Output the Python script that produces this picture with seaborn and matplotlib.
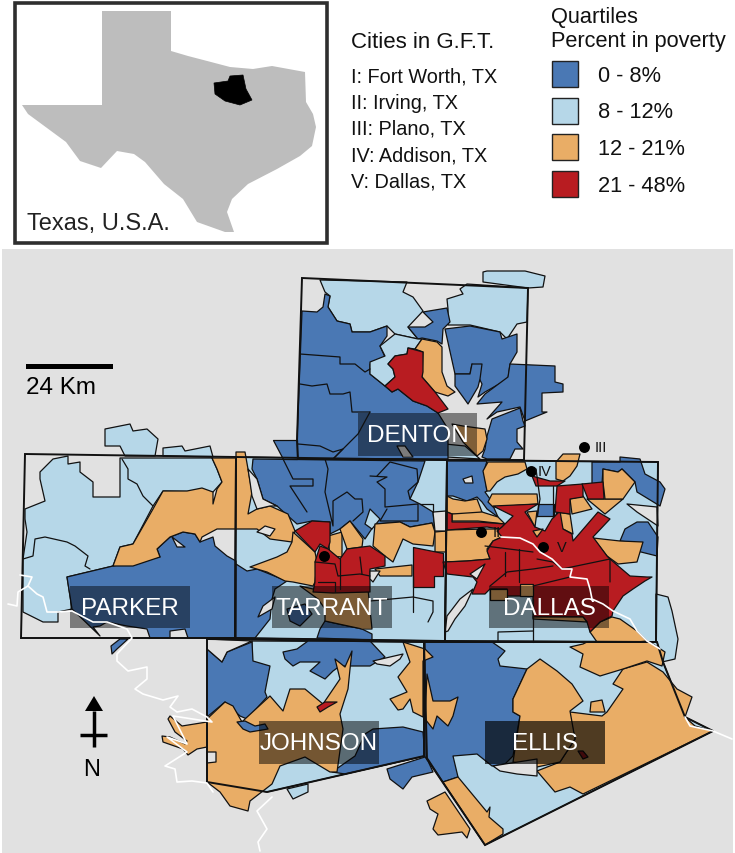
"""Poverty quartiles by census tract, Greater Fort Worth / Dallas counties."""

import matplotlib
matplotlib.use('Agg')
import matplotlib.pyplot as plt
import pandas as pd
import seaborn as sns
from matplotlib.patches import Rectangle

texas = [(102, 12), (171, 12), (171, 52), (188, 57), (211, 63), (230, 68), (253, 70), (272, 67), (305, 73),
         (306, 103), (313, 115), (316, 128), (312, 147), (300, 157), (277, 170), (248, 185), (232, 200),
         (227, 213), (234, 233), (225, 233), (197, 223), (183, 200), (164, 185), (145, 163), (134, 155),
         (117, 152), (101, 169), (80, 162), (66, 143), (28, 115), (22, 106), (102, 106)]
study_area = [(230, 77), (243, 76), (246, 90), (252, 101), (240, 106), (225, 102), (215, 95), (214, 84), (228, 82)]

quartile_labels = ['0 - 8%', '8 - 12%', '12 - 21%', '21 - 48%']
quartile_colors = ['#4a78b4', '#b6d7e8', '#e9ad66', '#b81c21']
city_lines = ['I: Fort Worth, TX', 'II: Irving, TX', 'III: Plano, TX', 'IV: Addison, TX', 'V: Dallas, TX']

county_names = ['DENTON', 'PARKER', 'TARRANT', 'DALLAS', 'JOHNSON', 'ELLIS']
county_boxes = [(358, 414, 477, 457), (70, 587, 190, 629), (272, 587, 392, 629),
                (489, 587, 609, 629), (259, 722, 379, 765), (485, 722, 605, 765)]
county_alphas = [0.45, 0.45, 0.47, 0.47, 0.5, 0.66]

city_marks = ['I', 'II', 'III', 'IV', 'V']
city_x = [324, 481, 584, 531, 543]
city_y = [557, 533, 448, 472, 548]
city_mark_x = [324, 497, 601, 545, 562]

denton_box = [(302, 279), (528, 289), (524, 461), (298, 460), (297, 442)]
parker_box = [(25, 455), (236, 458), (235, 639), (21, 639)]
tarrant_box = [(236, 458), (447, 461), (445, 642), (235, 639)]
dallas_box = [(447, 461), (658, 463), (656, 643), (445, 642)]
johnson_box = [(207, 640), (424, 643), (424, 757), (267, 793), (207, 783)]
ellis_box = [(424, 643), (657, 643), (663, 663), (685, 718), (713, 732), (485, 846), (427, 760)]

# light blue
lb_parker = [(40, 473), (53, 460), (68, 457), (68, 465), (80, 463), (80, 473), (93, 483), (93, 498), (120, 498),
             (120, 459), (212, 459), (217, 470), (222, 483),
             (213, 493), (163, 492), (153, 507), (133, 545), (120, 548), (113, 567), (67, 578), (72, 610),
             (58, 613), (58, 623), (43, 623), (23, 613), (23, 560), (27, 533), (25, 520), (25, 510), (45, 502),
             (40, 480)]
lb_north_a = [(105, 430), (130, 425), (133, 432), (147, 430), (158, 440), (155, 457), (125, 457), (120, 447), (105, 447)]
lb_north_b = [(163, 449), (182, 447), (185, 452), (210, 447), (213, 458), (163, 457)]
lb_tarrant = [(236, 458), (447, 461), (445, 642), (235, 639)]
lb_dallas = [(447, 461), (658, 463), (656, 643), (445, 642)]
lb_east = [(656, 595), (668, 598), (672, 612), (678, 640), (675, 660), (662, 663), (656, 643)]
lb_johnson = [(252, 642), (424, 643), (424, 757), (267, 793), (252, 790)]
lb_johnson_out = [(287, 790), (308, 785), (308, 793), (293, 800)]
lb_ellis = [(424, 643), (657, 643), (663, 663), (685, 718), (713, 732), (485, 846), (427, 760)]
lb_denton_nw = [(320, 281), (407, 283), (403, 293), (413, 298), (423, 312), (408, 328), (418, 340), (395, 335),
                (387, 327), (370, 333), (352, 333), (350, 325), (337, 322), (328, 308), (330, 297), (325, 293)]
lb_denton_ne = [(467, 285), (528, 289), (527, 323), (517, 325), (507, 340), (500, 333), (470, 326), (448, 326),
                (448, 310), (447, 300), (463, 295), (460, 290)]
lb_denton_top = [(483, 273), (487, 272), (525, 272), (545, 277), (543, 288), (528, 289), (483, 283)]
lb_denton_mid = [(395, 335), (418, 340), (422, 340), (415, 350), (408, 349), (407, 355), (395, 357), (388, 365),
                 (393, 370), (395, 378), (385, 387), (370, 375), (370, 363), (385, 357), (380, 347)]
lb_denton_low = [(445, 445), (465, 447), (480, 460), (447, 458)]
lb_tarrant_pocket = [(370, 510), (380, 520), (372, 530), (365, 525)]

# blue
bl_parker = [(67, 578), (113, 567), (160, 558), (157, 550), (170, 538), (183, 533), (195, 535), (200, 543),
             (213, 538), (215, 547), (227, 557), (236, 562), (236, 639), (188, 639), (185, 630), (170, 632),
             (170, 639), (150, 639), (147, 630), (127, 627), (107, 623), (100, 627), (93, 628), (100, 637), (72, 610)]
bl_stub = [(120, 640), (128, 640), (117, 650), (112, 655), (111, 647)]
bl_tarrant_n = [(253, 460), (425, 462), (418, 483), (410, 500), (420, 505), (433, 513), (435, 532), (432, 524),
                (410, 528), (400, 523), (375, 525), (365, 540), (350, 522), (340, 530), (330, 535), (330, 523),
                (312, 522), (297, 525), (277, 507), (263, 500), (257, 480), (252, 470)]
bl_tarrant_sw = [(236, 565), (247, 572), (257, 570), (287, 582), (275, 590), (272, 600), (270, 620), (255, 639), (236, 639)]
bl_tarrant_s = [(317, 639), (320, 630), (325, 622), (362, 630), (372, 635), (372, 641)]
bl_tarrant_label = [(287, 610), (305, 605), (312, 615), (300, 627), (290, 622)]
bl_denton = [(302, 312), (297, 442), (297, 460), (448, 460), (448, 430), (438, 414), (427, 407), (413, 402),
             (398, 390), (392, 393), (385, 387), (370, 375), (370, 365), (385, 358), (380, 347), (387, 337),
             (387, 327), (370, 333), (352, 333), (350, 325), (337, 322), (328, 308), (330, 297), (325, 295),
             (323, 308), (317, 313)]
bl_denton_w = [(273, 441), (297, 441), (297, 460), (283, 460)]
bl_denton_mid = [(408, 328), (425, 328), (433, 323), (423, 313), (447, 309), (450, 323), (443, 330), (442, 345),
                 (437, 342), (422, 339), (418, 340)]
bl_denton_a = [(445, 330), (470, 327), (500, 333), (502, 340), (517, 335), (517, 353), (510, 365), (508, 380),
               (485, 393), (478, 398), (482, 385), (472, 365), (470, 375), (455, 375)]
bl_denton_b = [(510, 365), (555, 367), (555, 383), (563, 385), (563, 393), (542, 394), (542, 413), (547, 413),
               (525, 422), (520, 408), (497, 413), (487, 420), (502, 403), (477, 405), (485, 395), (508, 378)]
bl_denton_c = [(455, 375), (470, 375), (472, 365), (482, 365), (480, 380), (478, 388), (468, 405), (463, 398), (455, 387)]
bl_denton_d = [(487, 437), (492, 420), (520, 409), (523, 422), (525, 427), (517, 430), (517, 443), (523, 450),
               (515, 450), (510, 460), (487, 460), (482, 458), (485, 450)]
bl_dallas_nw = [(447, 462), (487, 462), (484, 472), (487, 492), (485, 493), (490, 500), (498, 518), (487, 510),
                (482, 503), (477, 498), (467, 502), (453, 497), (447, 497)]
bl_dallas_ne = [(592, 463), (620, 463), (620, 458), (640, 460), (645, 475), (660, 483), (665, 490), (660, 507),
                (637, 493), (635, 483), (622, 470), (618, 473), (603, 470), (602, 485), (592, 485)]
bl_dallas_e = [(637, 523), (648, 523), (658, 538), (657, 557), (637, 552), (628, 543), (620, 542), (625, 530)]
bl_dallas_mid = [(538, 505), (554, 505), (554, 517), (537, 517)]
bl_johnson_w = [(207, 650), (222, 663), (227, 653), (252, 643), (253, 662), (270, 667), (265, 693), (267, 698),
                (247, 720), (240, 717), (225, 703), (207, 718)]
bl_johnson_top = [(283, 653), (297, 650), (308, 642), (370, 642), (385, 658), (370, 667), (340, 667), (333, 672),
                  (325, 680), (310, 672), (320, 663), (300, 663), (293, 667), (285, 660)]
bl_johnson_se = [(332, 773), (355, 757), (365, 735), (373, 730), (403, 728), (423, 733), (425, 757), (345, 775)]
bl_johnson_small = [(237, 723), (245, 722), (255, 727), (265, 725), (268, 730), (250, 733), (243, 730)]
bl_ellis = [(425, 643), (492, 643), (505, 652), (498, 660), (500, 667), (527, 670), (513, 700), (513, 713),
            (520, 717), (513, 757), (505, 765), (492, 767), (477, 755), (453, 757), (458, 778), (443, 783),
            (428, 760), (425, 758)]
bl_south = [(387, 770), (425, 758), (428, 762), (433, 773), (412, 778), (403, 790), (390, 780)]

# orange
or_wedge = [(113, 567), (120, 548), (133, 545), (153, 510), (163, 492), (187, 492), (202, 489), (213, 493),
            (213, 505), (217, 490), (222, 483), (217, 470), (212, 459), (236, 459), (236, 453), (245, 453),
            (248, 470), (252, 493), (248, 515), (257, 510), (270, 507), (288, 515), (295, 532), (292, 543),
            (270, 540), (257, 530), (233, 530), (217, 530), (202, 538), (200, 543), (195, 535), (183, 533),
            (170, 538), (157, 550), (160, 558), (133, 567)]
or_fw = [(293, 533), (315, 553), (317, 563), (315, 583), (313, 587), (293, 583), (285, 582), (267, 573), (250, 568),
         (277, 558), (287, 553), (292, 543)]
or_south = [(300, 587), (313, 590), (345, 587), (368, 590), (372, 630), (362, 630), (325, 622), (325, 610), (318, 600)]
or_north_a = [(328, 537), (342, 533), (342, 558), (330, 557)]
or_north_b = [(340, 530), (350, 522), (363, 540), (362, 548), (347, 550)]
or_east_a = [(375, 525), (400, 523), (410, 528), (432, 524), (435, 533), (433, 547), (413, 545), (403, 540),
             (393, 563), (385, 557), (373, 547)]
or_east_b = [(375, 570), (412, 566), (412, 577), (380, 577)]
or_east_c = [(435, 533), (446, 532), (446, 553), (435, 553)]
or_dallas_w = [(446, 531), (487, 530), (502, 530), (502, 538), (493, 542), (487, 550), (490, 560), (467, 562), (446, 563)]
or_dallas_top = [(483, 472), (488, 463), (525, 463), (527, 470), (518, 475), (505, 478), (497, 483), (490, 492), (487, 492)]
or_dallas_strip = [(488, 503), (492, 495), (537, 495), (538, 505), (493, 508)]
or_dallas_b = [(447, 497), (453, 500), (465, 502), (477, 500), (482, 513), (470, 517), (452, 515), (447, 513)]
or_dallas_c = [(452, 515), (482, 513), (498, 518), (505, 525), (478, 522), (452, 522)]
or_dallas_d = [(570, 500), (583, 497), (592, 510), (572, 515)]
or_dallas_e = [(587, 500), (623, 500), (605, 515), (593, 505)]
or_dallas_f = [(603, 470), (618, 473), (622, 470), (635, 483), (623, 500), (605, 500), (603, 483)]
or_dallas_g = [(593, 539), (620, 542), (643, 543), (637, 563), (618, 565), (607, 557)]
or_dallas_h = [(557, 513), (570, 515), (573, 535), (563, 530), (558, 537), (550, 535)]
or_dallas_i = [(527, 513), (537, 512), (535, 528)]
or_dallas_j = [(563, 455), (580, 455), (577, 467), (570, 477), (563, 482), (556, 480), (556, 463)]
or_dallas_k = [(533, 532), (543, 530), (537, 538)]
or_dallas_se = [(590, 633), (600, 623), (612, 618), (620, 620), (637, 632), (647, 642), (637, 643), (597, 643)]
or_dallas_lab_a = [(490, 590), (507, 590), (507, 601), (490, 601)]
or_dallas_lab_b = [(520, 585), (533, 585), (533, 597), (520, 597)]
or_dallas_lab_c = [(533, 618), (583, 618), (587, 623), (533, 620)]
or_ellis_l = [(427, 675), (433, 702), (450, 702), (458, 698), (453, 717), (448, 727), (437, 717), (433, 730), (425, 720)]
or_ellis_top = [(403, 643), (425, 650), (433, 658), (423, 662), (423, 718), (413, 713), (410, 700), (403, 710),
                (398, 711), (390, 700), (407, 693), (398, 678), (410, 663)]
or_ellis_e = [(570, 713), (602, 717), (607, 713), (623, 690), (613, 685), (623, 670), (647, 663), (663, 673),
              (677, 690), (692, 698), (685, 718), (695, 727), (713, 732), (583, 795), (570, 788), (555, 793),
              (537, 772), (560, 763), (575, 740), (570, 717)]
or_ellis_w = [(513, 700), (527, 670), (540, 660), (557, 672), (572, 685), (583, 702), (570, 712), (575, 740),
              (560, 763), (537, 768), (513, 763), (520, 717), (513, 713)]
or_ellis_n = [(570, 648), (583, 645), (587, 643), (650, 643), (665, 653), (662, 667), (647, 662), (623, 670),
              (600, 677), (580, 668), (583, 655)]
or_ellis_small = [(591, 703), (602, 701), (605, 713), (590, 713)]
or_ellis_sw = [(443, 783), (458, 778), (487, 813), (490, 808), (489, 818), (503, 830), (503, 835), (485, 846)]
or_south_out = [(427, 802), (445, 793), (470, 830), (467, 839), (462, 833), (438, 836), (433, 830), (438, 815), (430, 810)]
or_johnson = [(207, 720), (225, 703), (233, 707), (242, 723), (245, 720), (270, 697), (283, 712), (290, 690),
              (305, 690), (323, 705), (340, 680), (335, 660), (345, 668), (352, 652), (350, 670), (348, 690),
              (340, 715), (343, 730), (337, 773), (330, 773), (305, 758), (280, 767), (272, 785), (250, 802),
              (248, 812), (230, 807), (220, 793), (207, 783)]
or_lobe = [(170, 717), (182, 727), (207, 723), (207, 748), (197, 750), (188, 756), (183, 750), (163, 743), (162, 737),
           (170, 738), (185, 745), (187, 742), (175, 733), (168, 720)]
or_denton = [(415, 350), (422, 340), (437, 343), (442, 348), (442, 373), (447, 387), (455, 393), (448, 397), (435, 393),
             (422, 378), (423, 353)]
or_denton_low = [(452, 425), (463, 427), (485, 430), (487, 440), (483, 452), (477, 457), (463, 443)]

# red
rd_denton = [(388, 365), (395, 357), (407, 355), (408, 349), (423, 353), (423, 373), (422, 378), (435, 393), (448, 410),
             (438, 414), (427, 407), (413, 402), (398, 390), (392, 393), (385, 387), (395, 378), (393, 370)]
rd_fw_n = [(295, 532), (312, 522), (330, 523), (330, 543), (328, 550), (320, 545), (315, 553)]
rd_fw_s = [(315, 563), (320, 547), (328, 550), (340, 560), (347, 550), (370, 547), (385, 557), (385, 567), (370, 570),
           (370, 593), (333, 594), (313, 593), (315, 583)]
rd_east = [(413, 548), (413, 588), (434, 588), (434, 577), (443, 577), (443, 554)]
rd_band = [(447, 513), (452, 515), (452, 523), (478, 523), (505, 525), (500, 530), (487, 528), (447, 531)]
rd_dallas = [(493, 507), (538, 505), (525, 513), (530, 520), (535, 528), (545, 532), (552, 520), (560, 512), (563, 530),
             (572, 535), (573, 542), (598, 513), (610, 520), (593, 538), (607, 557), (610, 560), (630, 577), (647, 578),
             (652, 578), (645, 582), (633, 590), (623, 597), (613, 612), (612, 617), (600, 623), (590, 633), (587, 623),
             (583, 618), (533, 618), (533, 597), (507, 597), (507, 590), (490, 590),
             (485, 595), (472, 595), (477, 583), (473, 578), (447, 575), (443, 563), (467, 562), (490, 560), (487, 552),
             (493, 542), (502, 538), (497, 532), (502, 528), (513, 517)]
rd_north_a = [(532, 477), (550, 482), (565, 482), (557, 487), (536, 487)]
rd_north_b = [(557, 487), (583, 485), (583, 498), (570, 500), (570, 515), (555, 513)]
rd_north_c = [(582, 485), (603, 483), (604, 500), (588, 500)]
rd_johnson = [(317, 708), (325, 703), (337, 703), (328, 708), (320, 713)]
rd_ellis = [(578, 752), (583, 752), (588, 758), (583, 760)]

# holes showing the background: lakes and tracts without data
hole_ellis = [(493, 767), (505, 765), (537, 760), (537, 777), (517, 775), (500, 772)]
hole_johnson_a = [(207, 753), (216, 753), (216, 763), (207, 764)]
hole_johnson_b = [(373, 662), (390, 658), (403, 655), (400, 660), (390, 667), (377, 665)]
hole_tarrant_a = [(445, 633), (447, 617), (460, 600), (473, 590), (465, 607), (455, 620), (448, 632)]
hole_tarrant_b = [(257, 533), (265, 527), (275, 530), (270, 537)]
hole_tarrant_c = [(263, 607), (275, 598), (272, 610), (258, 618)]
hole_tarrant_d = [(370, 572), (380, 572), (373, 583), (370, 580)]
hole_tarrant_e = [(433, 513), (446, 512), (446, 532), (435, 532)]
hole_tarrant_f = [(248, 470), (257, 480), (263, 500), (277, 507), (270, 507), (257, 510), (252, 497), (250, 483)]
hole_parker = [(172, 538), (185, 548), (177, 548)]
hole_dallas_a = [(470, 575), (485, 565), (477, 580)]
hole_dallas_b = [(627, 505), (657, 508), (658, 527), (637, 513)]
hole_dallas_c = [(463, 480), (472, 477), (473, 484), (465, 484)]
hole_denton = [(397, 447), (405, 447), (413, 458), (403, 458)]
hole_west = [(207, 640), (252, 642), (227, 653), (222, 663), (207, 650)]

light_blue = [lb_tarrant, lb_dallas, lb_east, lb_johnson, lb_johnson_out, lb_ellis, lb_parker, lb_north_a, lb_north_b,
              lb_denton_nw, lb_denton_ne, lb_denton_top, lb_denton_low]
blue = [bl_parker, bl_stub, bl_tarrant_n, bl_tarrant_sw, bl_tarrant_s, bl_tarrant_label, bl_denton, bl_denton_w,
        bl_denton_mid, bl_denton_a, bl_denton_b, bl_denton_c, bl_denton_d, bl_dallas_nw, bl_dallas_ne, bl_dallas_e,
        bl_johnson_w, bl_johnson_top, bl_johnson_se, bl_ellis, bl_south]
light_blue_top = [lb_denton_mid, lb_tarrant_pocket]
orange = [or_wedge, or_fw, or_south, or_north_a, or_north_b, or_east_a, or_east_b, or_east_c, or_dallas_w,
          or_dallas_top, or_dallas_strip, or_dallas_b, or_dallas_c, or_dallas_d, or_dallas_e, or_dallas_f,
          or_dallas_g, or_dallas_h, or_dallas_j, or_dallas_se, or_ellis_l, or_ellis_top, or_ellis_e, or_ellis_w,
          or_ellis_n, or_ellis_small, or_ellis_sw, or_south_out, or_johnson, or_lobe, or_denton, or_denton_low]
red = [rd_denton, rd_fw_n, rd_fw_s, rd_east, rd_band, rd_dallas, rd_north_a, rd_north_b, rd_north_c, rd_johnson, rd_ellis]
orange_top = [or_dallas_i, or_dallas_k, or_dallas_lab_a, or_dallas_lab_b, or_dallas_lab_c]
blue_top = [bl_dallas_mid, bl_johnson_small]
holes = [hole_ellis, hole_johnson_a, hole_johnson_b, hole_tarrant_a, hole_tarrant_b, hole_tarrant_c, hole_tarrant_d,
         hole_tarrant_e, hole_tarrant_f, hole_parker, hole_dallas_a, hole_dallas_b, hole_dallas_c, hole_denton, hole_west]

tract_lines = [
    [(300, 355), (340, 358), (340, 365), (355, 365), (365, 373), (370, 370)],
    [(300, 385), (312, 387), (327, 385), (330, 395), (343, 395), (350, 393), (352, 413), (370, 413)],
    [(298, 445), (320, 447), (333, 453), (343, 450), (333, 460)],
    [(370, 413), (358, 435), (333, 460)],
    [(283, 460), (293, 480), (313, 480), (313, 487), (290, 487), (307, 513)],
    [(325, 460), (328, 470), (325, 493), (333, 527), (333, 502), (347, 493), (355, 500), (362, 500), (363, 513), (353, 522)],
    [(370, 477), (387, 478), (377, 483), (385, 490), (385, 508), (418, 505), (418, 522), (380, 522), (387, 510)],
    [(420, 505), (433, 505), (433, 513)],
    [(377, 477), (390, 463), (417, 470), (418, 483), (408, 492), (410, 500)],
    [(315, 563), (335, 565), (338, 577), (360, 575), (370, 577)],
    [(340, 560), (340, 590)],
    [(360, 558), (362, 575)],
    [(318, 583), (335, 583), (335, 593)],
    [(533, 600), (533, 643)],
    [(519, 550), (519, 583)],
    [(505, 553), (505, 577)],
    [(485, 547), (533, 553)],
    [(537, 560), (553, 563), (562, 570), (610, 560), (610, 583)],
    [(533, 587), (570, 578)],
    [(490, 587), (507, 573), (533, 570), (553, 567)],
    [(498, 642), (498, 633), (533, 632)],
    [(536, 470), (540, 500), (537, 518)],
    [(553, 487), (553, 518)],
    [(370, 602), (413, 598), (433, 602), (433, 613), (428, 623)],
    [(413, 577), (413, 613)],
    [(122, 460), (128, 470), (128, 480), (137, 485), (143, 497), (153, 507)],
    [(23, 560), (33, 557), (35, 540), (45, 538), (67, 543), (75, 547), (88, 557), (85, 567), (90, 570)],
]

rivers = [
    [(501, 538), (520, 539), (533, 545), (540, 553), (552, 560), (562, 570), (572, 570), (570, 578), (587, 580),
     (590, 590), (592, 600), (603, 605), (613, 612), (630, 620), (637, 632), (647, 642), (660, 650)],
    [(685, 718), (690, 727), (713, 732), (732, 740)],
    [(20, 576), (32, 578), (28, 587), (37, 595), (43, 598), (47, 613), (58, 613), (72, 612), (93, 623), (107, 623),
     (127, 630), (132, 639), (117, 655), (117, 662), (128, 672), (147, 668), (147, 680), (135, 690), (143, 695),
     (153, 698), (163, 701), (178, 697), (170, 708), (177, 713), (192, 710), (207, 718), (212, 723), (173, 717),
     (187, 745), (167, 738), (187, 753), (165, 767), (175, 770), (177, 783), (192, 782), (207, 784), (213, 793)],
    [(8, 605), (17, 607), (18, 593), (28, 587)],
    [(272, 798), (257, 812), (267, 830), (258, 843), (260, 852)],
]

sns.set_theme(style='white')
plt.rcParams['font.family'] = ['Liberation Sans', 'DejaVu Sans']
ink = '#111111'
grey_bg = '#e1e1e1'

fig = plt.figure(figsize=(7.35, 8.54), dpi=100)
ax = fig.add_axes([0, 0, 1, 1])

# panels
ax.add_patch(Rectangle((2, 250), 731, 604, fc=grey_bg, ec='none'))
ax.add_patch(Rectangle((15, 4), 312, 240, fc='white', ec='#2e2e2e', lw=2.6))
ax.fill(*zip(*texas), color='#bdbdbd', lw=0)
ax.fill(*zip(*study_area), color='black', lw=0.5)
ax.text(27, 224, 'Texas, U.S.A.', fontsize=17, color='#222222', va='center')

# tracts, painted back to front
for polys, color in [(light_blue, quartile_colors[1]), (blue, quartile_colors[0]),
                     (light_blue_top, quartile_colors[1]), (orange, quartile_colors[2]),
                     (red, quartile_colors[3]), (orange_top, quartile_colors[2]),
                     (blue_top, quartile_colors[0]), (holes, grey_bg)]:
    for poly in polys:
        ax.fill(*zip(*poly), facecolor=color, edgecolor=ink, lw=0.9, joinstyle='round')

for line in tract_lines:
    ax.plot(*zip(*line), color=ink, lw=0.9)
for line in rivers:
    ax.plot(*zip(*line), color='white', lw=1.2)

for box in [denton_box, parker_box, tarrant_box, dallas_box, johnson_box, ellis_box]:
    ax.fill(*zip(*box), fill=False, edgecolor=ink, lw=1.4)

# county labels
for name, (x0, y0, x1, y1), alpha in zip(county_names, county_boxes, county_alphas):
    ax.add_patch(Rectangle((x0, y0), x1 - x0, y1 - y0, fc='black', ec='none', alpha=alpha))
    ax.text((x0 + x1) / 2, (y0 + y1) / 2 + 1, name, color='white', fontsize=17.5, ha='center', va='center')

# cities
cities = pd.DataFrame({'x': city_x, 'y': city_y, 'mark': city_marks})
sns.scatterplot(data=cities, x='x', y='y', color='black', s=62, linewidth=0, ax=ax, legend=False)
for mark, mx, my in zip(city_marks[1:], city_mark_x[1:], city_y[1:]):
    ax.text(mx, my, mark, fontsize=10.5, color=ink, ha='center', va='center')

# city list
ax.text(351, 42, 'Cities in G.F.T.', fontsize=16, color=ink, va='center')
for i, line in enumerate(city_lines):
    ax.text(351, 77 + i * 26.2, line, fontsize=14.3, color=ink, va='center')

# legend
ax.text(551, 17, 'Quartiles', fontsize=15.7, color=ink, va='center')
ax.text(551, 42, 'Percent in poverty', fontsize=15.7, color=ink, va='center')
for i, (label, color) in enumerate(zip(quartile_labels, quartile_colors)):
    ax.add_patch(Rectangle((552, 62 + i * 36.7), 26, 26, fc=color, ec='#222222', lw=1.0))
    ax.text(598, 76 + i * 36.7, label, fontsize=15.7, color=ink, va='center')

# scale bar and north arrow
ax.add_patch(Rectangle((26, 365), 87, 5, fc='black', ec='none'))
ax.text(26, 388, '24 Km', fontsize=17.5, color='black', va='center')
ax.fill([94, 85, 103], [697, 712, 712], color='black', lw=0)
ax.plot([94, 94], [712, 748], color='black', lw=2.5, solid_capstyle='butt')
ax.plot([80, 107], [736, 736], color='black', lw=2.5, solid_capstyle='butt')
ax.text(92, 770, 'N', fontsize=17, color='black', ha='center', va='center')

ax.set_xlim(0, 735)
ax.set_ylim(854, 0)
ax.axis('off')

fig.savefig('out.png', dpi=100)
plt.close(fig)
